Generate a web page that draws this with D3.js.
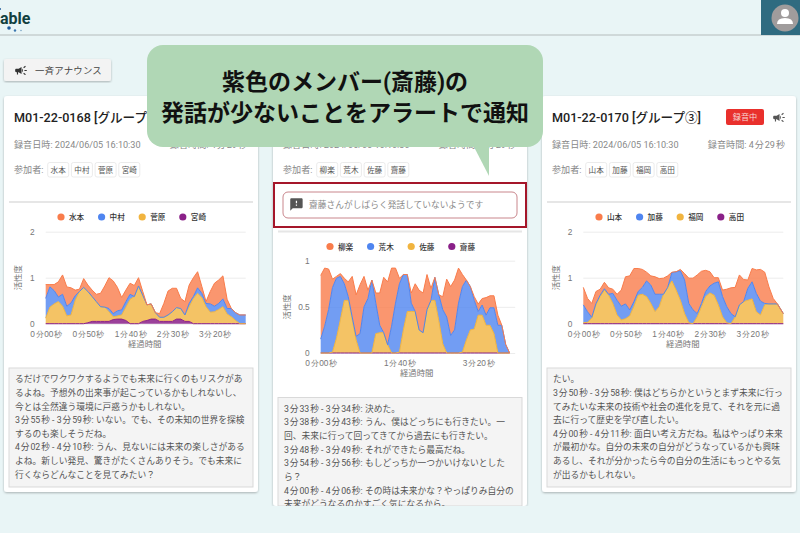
<!DOCTYPE html>
<html lang="ja">
<head>
<meta charset="utf-8">
<script src="https://cdn.jsdelivr.net/npm/d3@7"></script>
<style>
  body { margin: 0; background: #e9f5f6; overflow: hidden; }
  svg { display: block; font-family: Roboto, "Noto Sans CJK JP", sans-serif; }
  .grid line { stroke: #ececec; }
  .grid .domain { display: none; }
  .axis .domain, .axis line { display: none; }
  .axis text { fill: #777; font-size: 8.3px; }
</style>
</head>
<body>
<div id="page"></div>
<script>
// activity per member, one value every 5 seconds
const mizumoto = [.30,.05,.13,.33,.42,.42,.33,.12,.05,.19,.14,.14,.16,.29,.46,.67,.71,.51,.27,.25,.24,.24,.18,.08,0,0,0,.08,.30,.52,.51,.42,.22,.29,.40,.41,.35,.15,.04,.27,.50,.51,.50,.20,0,0,0,0];
const nakamura = [.43,.44,.29,.10,.26,.21,.26,.10,0,0,0,0,0,0,0,.07,.07,.11,.11,.12,.11,0,0,0,0,0,0,0,0,0,0,0,0,0,.07,.04,.12,.09,.07,.18,.12,.13,.17,.12,.18,.17,.19,.19];
const sugawara = [.12,.36,.43,.48,.38,.17,.19,.51,.70,.79,.68,.54,.43,.32,.31,.21,.06,.07,.09,.29,.53,.59,.82,.57,.34,.33,.14,.09,.09,.14,.21,.25,.23,.14,.32,.55,.66,.57,.37,.25,.26,.31,.37,.21,.15,.07,0,0];
const miyazaki = [0,0,0,0,0,0,0,0,0,0,.02,.05,.05,.05,.05,.05,.09,.10,.10,.07,0,0,0,.05,.07,.10,.10,.05,.05,.05,.05,.10,.10,.05,.05,0,0,0,0,0,0,0,0,0,0,0,0,0];

const yanagi = [.69,.63,.44,.09,.02,.03,.06,.16,.44,.45,.53,.33,.09,0,.11,.35,.60,.68,.63,.38,.06,0,0,.11,.30,.43,.43,.38,.13,0,0,.14,.41,.53,.54,.38,.13,0,0,.04,.08,.07,.19,.13,.13,.11,0,0,0];
const araki = [.15,.29,.47,.70,.65,.47,.18,.04,.03,.04,.21,.50,.59,.79,.33,.08,0,0,.29,.54,.74,.60,.40,.09,0,0,0,0,0,.25,.28,.37,.39,.19,.25,.54,.71,.65,.47,.31,.04,.11,.11,.19,.28,.30,.30,.09,0];
const sato = [0,0,0,.01,.16,.36,.57,.57,.36,.14,0,0,0,0,.21,.22,.22,.09,0,0,.01,.25,.45,.45,.45,.25,.22,.47,.57,.57,.35,.10,0,0,0,0,.01,.14,.25,.26,.41,.41,.30,.30,.21,0,0,0,0];
const saito = [0,0,0,0,0,0,0,0,0,0,0,0,0,0,0,0,0,0,0,0,0,0,0,0,0,0,0,0,0,0,0,0,0,0,0,0,0,0,0,0,0,0,0,0,0,0,0,0,0];

const yamamoto = [.38,.29,.30,.26,.13,.14,.14,.09,.13,.35,.59,.74,.72,.50,.39,.19,.20,.38,.34,.35,.25,.01,0,.03,.14,.55,.69,.84,.70,.46,.31,.12,.09,.14,.38,.56,.64,.65,.48,.18,.29,.51,.69,.68,.37,.12,0,0];
const kato = [.39,.23,.02,.03,.03,.03,.02,.22,.32,.30,.32,.13,.10,.08,.15,.34,.40,.38,.27,0,0,.18,.40,.64,.73,.42,.30,.07,.07,.11,.15,.26,.50,.44,.35,.22,0,0,0,.26,.37,.40,.30,.03,0,0,0,0];
const fukuoka = [.02,.03,.12,.41,.59,.73,.62,.44,.19,.08,.11,.17,.38,.62,.64,.59,.44,.26,.37,.64,.79,.93,.73,.51,.22,.02,0,.15,.37,.59,.67,.62,.41,.15,.02,0,.15,.41,.48,.51,.54,.26,.19,.41,.43,.43,.43,.22];
const takada = [0,0,0,0,0,0,0,0,0,0,0,0,0,0,0,0,0,0,0,0,0,0,0,0,0,0,0,0,0,0,0,0,0,0,0,0,0,0,0,0,0,0,0,0,0,0,0,0];

const timesShort = [...d3.range(0, 235, 5), 237];
const timesLong = d3.range(0, 245, 5);

const xTicksShort = [0, 50, 100, 150, 200];
const xTicksLong = [0, 100, 200];
const yTicksShort = [0, 1, 2];
const yTicksLong = [0, 0.5, 1];

const transcriptLeft = [
  "るだけでワクワクするようでも未来に行くのもリスクがあ",
  "るよね。予想外の出来事が起こっているかもしれないし、",
  "今とは全然違う環境に戸惑うかもしれない。",
  "3\u200A分\u200A55\u200A秒 - 3\u200A分\u200A59\u200A秒: いない。でも、その未知の世界を探検",
  "するのも楽しそうだね。",
  "4\u200A分\u200A02\u200A秒 - 4\u200A分\u200A10\u200A秒: うん、見ないには未来の楽しさがある",
  "よね。新しい発見、驚きがたくさんありそう。でも未来に",
  "行くならどんなことを見てみたい？"
];
const transcriptMiddle = [
  "3\u200A分\u200A33\u200A秒 - 3\u200A分\u200A34\u200A秒: 決めた。",
  "3\u200A分\u200A38\u200A秒 - 3\u200A分\u200A43\u200A秒: うん、僕はどっちにも行きたい。一",
  "回、未来に行って回ってきてから過去にも行きたい。",
  "3\u200A分\u200A48\u200A秒 - 3\u200A分\u200A49\u200A秒: それができたら最高だね。",
  "3\u200A分\u200A54\u200A秒 - 3\u200A分\u200A56\u200A秒: もしどっちか一つかいけないとした",
  "ら？",
  "4\u200A分\u200A00\u200A秒 - 4\u200A分\u200A06\u200A秒: その時は未来かな？やっぱりみ自分の",
  "未来がどうなるのかすごく気になるから。"
];
const transcriptRight = [
  "たい。",
  "3\u200A分\u200A50\u200A秒 - 3\u200A分\u200A58\u200A秒: 僕はどちらかというとまず未来に行っ",
  "てみたいな未来の技術や社会の進化を見て、それを元に過",
  "去に行って歴史を学び直したい。",
  "4\u200A分\u200A00\u200A秒 - 4\u200A分\u200A11\u200A秒: 面白い考え方だね。私はやっぱり未来",
  "が最初かな。自分の未来の自分がどうなっているかも興味",
  "あるし、それが分かったら今の自分の生活にもっとやる気",
  "が出るかもしれない。"
];

const memberColors = ["#f97c4b", "#4f85f0", "#f1b43f", "#8a2088"];

const megaphonePath = "M18 11v2h4v-2h-4zm-2 6.61c.96.71 2.21 1.65 3.2 2.39.4-.53.8-1.07 1.2-1.6-.99-.74-2.24-1.68-3.2-2.4-.4.54-.8 1.08-1.2 1.61zM20.4 5.6c-.4-.53-.8-1.07-1.2-1.6-.99.74-2.24 1.68-3.2 2.4.4.53.8 1.07 1.2 1.6.96-.72 2.21-1.65 3.2-2.4zM4 9c-1.1 0-2 .9-2 2v2c0 1.1.9 2 2 2h1v4h2v-4h1l5 3V6L8 9H4zm11.5 3c0-1.33-.58-2.53-1.5-3.35v6.69c.92-.81 1.5-2.01 1.5-3.34z";
const alertPath = "M20 2H4c-1.1 0-2 .9-2 2v18l4-4h14c1.1 0 2-.9 2-2V4c0-1.1-.9-2-2-2zm-7 12h-2v-2h2v2zm0-4h-2V6h2v4z";

const width = 800;
const height = 533;

const svg = d3.select("#page").append("svg").attr("width", width).attr("height", height);

const defs = svg.append("defs");
const shadow = defs.append("filter").attr("id", "shadow").attr("x", "-5%").attr("y", "-5%").attr("width", "110%").attr("height", "110%");
shadow.append("feDropShadow").attr("dx", 0).attr("dy", 1).attr("stdDeviation", 1.2).attr("flood-color", "#000").attr("flood-opacity", 0.28);

// header
svg.append("line").attr("x1", 0).attr("x2", 800).attr("y1", 35).attr("y2", 35).attr("stroke", "#b5bcbc").attr("stroke-width", 1);
svg.append("text").attr("x", 0).attr("y", 24).attr("font-size", 16).attr("font-weight", 700).attr("fill", "#12403f").text("able");
[[9, 28, 1.8, "#1d5a9c"], [15, 30.5, 1.2, "#3c78b0"], [21, 30.5, 0.8, "#7aa5c5"], [0, 9, 1, "#1d5a9c"]].forEach(([x, y, r, c]) => {
  svg.append("circle").attr("cx", x).attr("cy", y).attr("r", r).attr("fill", c);
});
svg.append("rect").attr("x", 761).attr("y", 0).attr("width", 39).attr("height", 35).attr("fill", "#2f6b80");
svg.append("circle").attr("cx", 785).attr("cy", 18).attr("r", 13.5).attr("fill", "#a09c9c");
svg.append("circle").attr("cx", 785).attr("cy", 13).attr("r", 4).attr("fill", "#fff");
svg.append("path").attr("d", "M777 24 q0 -6 8 -6 q8 0 8 6 z").attr("fill", "#fff");

// announce button
svg.append("rect").attr("x", 4).attr("y", 59).attr("width", 107).attr("height", 22).attr("rx", 2)
  .attr("fill", "#f3f3f3").attr("filter", "url(#shadow)");
svg.append("path").attr("d", megaphonePath).attr("transform", "translate(14,63.5) scale(0.58)").attr("fill", "#333");
svg.append("text").attr("x", 35).attr("y", 73.5).attr("font-size", 9.4).attr("letter-spacing", 0.25).attr("fill", "#444").text("一斉アナウンス");

function drawCard(c) {
  const card = svg.append("g");
  const cardW = 254;
  const left = c.x;

  card.append("rect").attr("x", left).attr("y", 96).attr("width", cardW).attr("height", c.cardH).attr("rx", 3)
    .attr("fill", "#fff").attr("filter", "url(#shadow)");

  // title + meta, the callout hides the middle card's title
  if (c.title) {
    card.append("text").attr("x", left + 10).attr("y", 121.5).attr("font-size", 12.6).attr("font-weight", 500).attr("fill", "#222").text(c.title);
  }
  card.append("text").attr("x", left + 10).attr("y", 148).attr("font-size", 9.1).attr("fill", "#888").text("録音日時: 2024/06/05 16:10:30");
  card.append("text").attr("x", left + 243).attr("y", 148).attr("text-anchor", "end").attr("font-size", 9.1).attr("fill", "#888").text(c.duration);
  card.append("text").attr("x", left + 10).attr("y", 172.5).attr("font-size", 9.1).attr("fill", "#888").text("参加者:");

  c.members.forEach((name, i) => {
    const cx = left + 43.7 + i * 23.7;
    card.append("rect").attr("x", cx).attr("y", 162.5).attr("width", 21).attr("height", 14.5).attr("rx", 2)
      .attr("fill", "#fff").attr("stroke", "#e3e3e3").attr("stroke-width", 0.7);
    card.append("text").attr("x", cx + 10.5).attr("y", 172.8).attr("text-anchor", "middle").attr("font-size", 7.6).attr("fill", "#555").text(name);
  });

  if (c.recording) {
    card.append("rect").attr("x", left + 184).attr("y", 109).attr("width", 38).attr("height", 16).attr("rx", 2).attr("fill", "#e9302c");
    card.append("text").attr("x", left + 203).attr("y", 120).attr("text-anchor", "middle").attr("font-size", 8.2).attr("fill", "#f7d5d3").text("録音中");
    card.append("path").attr("d", megaphonePath).attr("transform", `translate(${left + 230},110.5) scale(0.58)`).attr("fill", "#555");
  }

  if (c.alert) {
    card.append("rect").attr("x", left + 10).attr("y", 192).attr("width", 234).attr("height", 26).attr("rx", 5)
      .attr("fill", "#fff").attr("stroke", "#c9868c").attr("stroke-width", 1);
    card.append("path").attr("d", alertPath).attr("transform", `translate(${left + 16},197) scale(0.62)`).attr("fill", "#555");
    card.append("text").attr("x", left + 36).attr("y", 207.5).attr("font-size", 8.7).attr("letter-spacing", 0.05).attr("fill", "#8a8a8a").text(c.alert);
    card.append("rect").attr("x", left + 1).attr("y", 183).attr("width", 252).attr("height", 44)
      .attr("fill", "none").attr("stroke", "#a5162a").attr("stroke-width", 2);
  }

  card.append("line").attr("x1", left + 5).attr("x2", left + 249).attr("y1", c.dividerY).attr("y2", c.dividerY)
    .attr("stroke", "#e6e6e6").attr("stroke-width", 2);

  // legend
  c.members.forEach((name, i) => {
    const lx = left + c.legendX + i * 40.6;
    card.append("circle").attr("cx", lx).attr("cy", c.dividerY + 15).attr("r", 3.6).attr("fill", memberColors[i]);
    card.append("text").attr("x", lx + 8).attr("y", c.dividerY + 18).attr("font-size", 7.6).attr("font-weight", 500).attr("fill", "#333").text(name);
  });

  // chart
  const chart = card.append("g").attr("transform", `translate(${c.plot.x},${c.plot.top})`);
  const plotW = c.plot.w;
  const plotH = c.plot.h;

  const xScale = d3.scaleLinear().domain(c.xDomain).range([0, plotW]);
  const yScale = d3.scaleLinear().domain(c.yDomain).range([plotH, 0]);

  chart.append("g").attr("class", "grid")
    .call(d3.axisLeft(yScale).tickValues(c.yTicks).tickSize(-plotW).tickFormat(""));

  const rows = c.times.map((t, i) => {
    const row = { time: t };
    c.series.forEach((s, k) => { row[k] = s[i]; });
    return row;
  });

  // purple at the bottom, orange on top
  const stack = d3.stack().keys([3, 2, 1, 0]);
  const layers = stack(rows);

  const area = d3.area()
    .x((d) => xScale(d.data.time))
    .y0((d) => yScale(d[0]))
    .y1((d) => yScale(d[1]));
  const topLine = d3.line()
    .x((d) => xScale(d.data.time))
    .y((d) => yScale(d[1]));

  chart.selectAll(".layer").data(layers).join("path")
    .attr("class", "layer")
    .attr("d", area)
    .attr("fill", (d) => memberColors[d.key])
    .attr("fill-opacity", (d) => (d.key === 3 ? 0.85 : 0.8));
  chart.selectAll(".top-line").data(layers).join("path")
    .attr("class", "top-line")
    .attr("d", topLine)
    .attr("fill", "none")
    .attr("stroke", (d) => memberColors[d.key])
    .attr("stroke-width", 1);

  const xAxis = d3.axisBottom(xScale).tickValues(c.xTicks).tickSize(0).tickPadding(7)
    .tickFormat((t) => `${Math.floor(t / 60)}\u200A分\u200A${String(t % 60).padStart(2, "0")}\u200A秒`);
  chart.append("g").attr("class", "axis").attr("transform", `translate(0,${plotH})`).call(xAxis);

  const yAxis = d3.axisLeft(yScale).tickValues(c.yTicks).tickSize(0).tickPadding(11).tickFormat(d3.format("~g"));
  chart.append("g").attr("class", "axis").call(yAxis);

  chart.append("text").attr("x", c.xTitleX).attr("y", plotH + 23.5).attr("text-anchor", "middle")
    .attr("font-size", 8.4).attr("fill", "#777").text("経過時間");
  chart.append("text").attr("transform", `translate(${c.yTitleX},${plotH / 2}) rotate(-90)`).attr("text-anchor", "middle")
    .attr("font-size", 8.4).attr("fill", "#777").text("活性度");

  // transcript box, scrolled so the text is cut off at its edges
  const clipId = `clip-${c.x}`;
  defs.append("clipPath").attr("id", clipId).append("rect")
    .attr("x", left + 5).attr("y", c.boxTop).attr("width", 244).attr("height", c.boxH);
  card.append("rect").attr("x", left + 5).attr("y", c.boxTop).attr("width", 244).attr("height", c.boxH)
    .attr("fill", "#f4f4f4").attr("stroke", "#d9d9d9").attr("stroke-width", 1);
  const body = card.append("g").attr("clip-path", `url(#${clipId})`);
  c.transcript.forEach((line, i) => {
    body.append("text").attr("x", left + 11).attr("y", c.boxTop + 14.2 + i * 13.65)
      .attr("font-size", 8.75).attr("fill", "#555").text(line);
  });
}

drawCard({
  x: 4, cardH: 396, title: "M01-22-0168 [グループ①]", duration: "録音時間: 4\u200A分\u200A29\u200A秒",
  members: ["水本", "中村", "菅原", "宮崎"], series: [mizumoto, nakamura, sugawara, miyazaki],
  times: timesShort, xDomain: [0, 237], xTicks: xTicksShort, yDomain: [0, 2], yTicks: yTicksShort,
  dividerY: 202, legendX: 57,
  plot: { x: 45.7, top: 231.7, w: 200, h: 92 }, xTitleX: 99, yTitleX: -25,
  boxTop: 368, boxH: 119, transcript: transcriptLeft
});

drawCard({
  x: 273, cardH: 410, title: "", duration: "録音時間: 4\u200A分\u200A29\u200A秒",
  members: ["柳楽", "荒木", "佐藤", "齋藤"], series: [yanagi, araki, sato, saito],
  times: timesLong, xDomain: [0, 247], xTicks: xTicksLong, yDomain: [0, 1], yTicks: yTicksLong,
  dividerY: 231.5, legendX: 57,
  plot: { x: 320.7, top: 260.7, w: 194.5, h: 92.3 }, xTitleX: 96, yTitleX: -31,
  boxTop: 397.5, boxH: 108.5, transcript: transcriptMiddle,
  alert: "齋藤さんがしばらく発話していないようです"
});

drawCard({
  x: 542, cardH: 396, title: "M01-22-0170 [グループ③]", duration: "録音時間: 4\u200A分\u200A29\u200A秒",
  members: ["山本", "加藤", "福岡", "高田"], series: [yamamoto, kato, fukuoka, takada],
  times: timesShort, xDomain: [0, 237], xTicks: xTicksShort, yDomain: [0, 2], yTicks: yTicksShort,
  dividerY: 202, legendX: 57,
  plot: { x: 583.3, top: 231.7, w: 200, h: 92 }, xTitleX: 99.5, yTitleX: -24,
  boxTop: 368, boxH: 119, transcript: transcriptRight, recording: true
});

// page cut off below the middle card
svg.append("rect").attr("x", 0).attr("y", 506).attr("width", 800).attr("height", 27).attr("fill", "#e9f5f6");

// callout
const bubbleColor = "#b0d7b5";
svg.append("path").attr("d", "M473 145 L489 176 L489 145 Z").attr("fill", bubbleColor);
svg.append("rect").attr("x", 147).attr("y", 45).attr("width", 396).attr("height", 102).attr("rx", 16).attr("fill", bubbleColor);
svg.append("text").attr("x", 345).attr("y", 90).attr("text-anchor", "middle").attr("font-size", 23).attr("font-weight", 700).attr("fill", "#111").text("紫色のメンバー(斎藤)の");
svg.append("text").attr("x", 345).attr("y", 121).attr("text-anchor", "middle").attr("font-size", 23).attr("font-weight", 700).attr("fill", "#111").text("発話が少ないことをアラートで通知");
</script>
</body>
</html>
